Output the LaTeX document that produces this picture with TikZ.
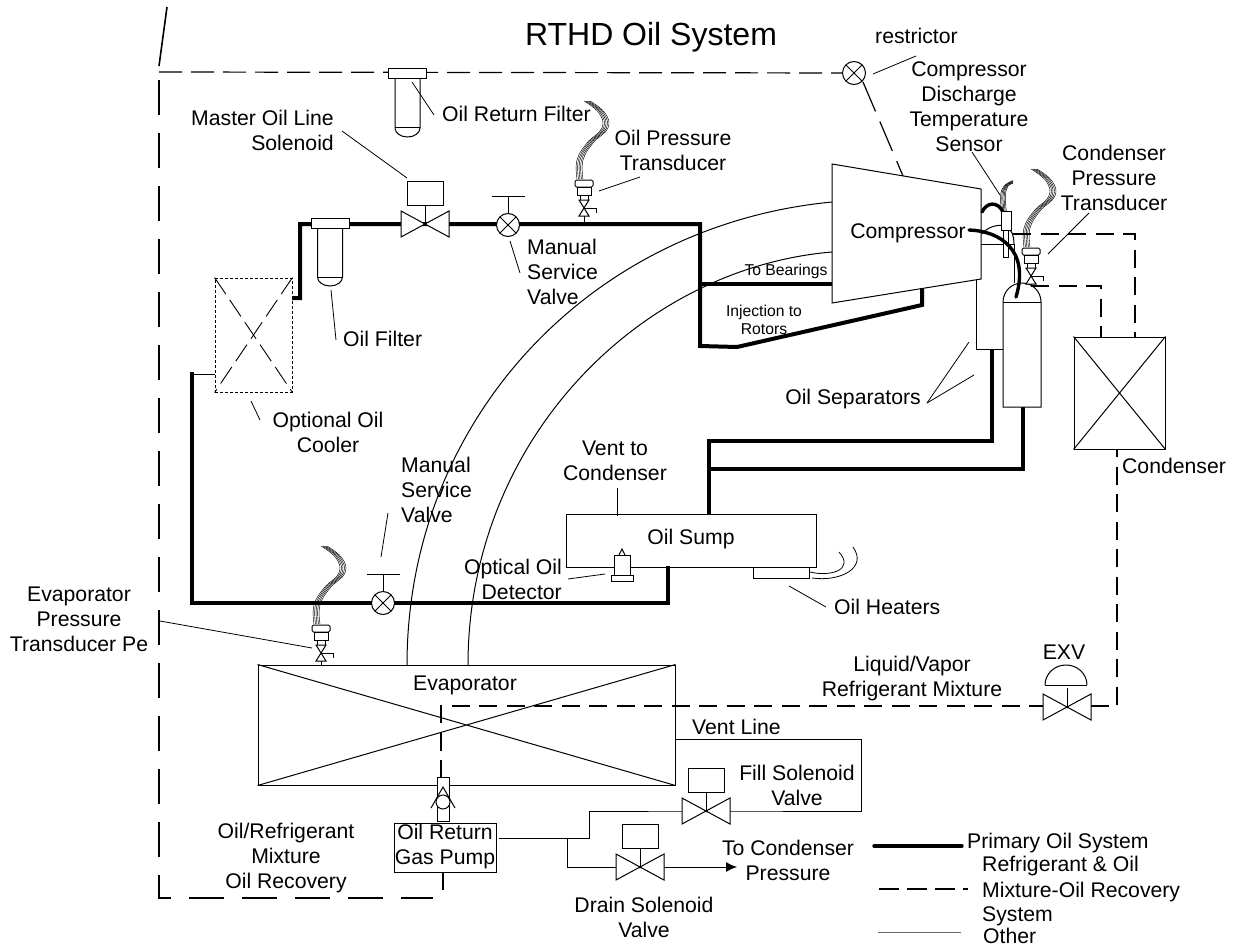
\documentclass[tikz,border=0pt]{standalone}
\usepackage{fontspec}
\setmainfont{Liberation Sans}
\usetikzlibrary{arrows.meta}
\tikzset{
  lbl/.style={inner sep=0pt,align=center,font=\fontsize{21.2}{25}\selectfont},
  lblL/.style={lbl,align=left,anchor=west},
  lblR/.style={lbl,align=right,anchor=east},
  small/.style={inner sep=0pt,align=center,font=\fontsize{15.7}{18}\selectfont},
  box/.style={draw=black,line width=1pt,fill=white,inner sep=0pt},
  thin line/.style={draw=black,line width=1pt},
  leaderline/.style={draw=black,line width=.8pt},
  oil/.style={draw=black,line width=4pt,line join=miter},
  oilthin/.style={draw=black,line width=3.4pt},
  recov/.style={draw=black,line width=1.7pt,dash pattern=on 18pt off 9.5pt},
  recovA/.style={draw=black,line width=1.2pt,dash pattern=on 23pt off 9pt},
  recovB/.style={draw=black,line width=1.4pt,dash pattern=on 35pt off 18pt},
  recovC/.style={draw=black,line width=1.2pt,dash pattern=on 32pt off 11pt},
  pics/gatevalve/.style={code={
    \draw[thin line,fill=white] (-24,-13)--(24,13)--(24,-13)--(-24,13)--cycle;
    \fill (0,0) circle[radius=1.5pt];
    \draw[thin line] (0,0)--(0,-19);
  }},
  pics/actuator/.style={code={
    \draw[box] (-18,-43) rectangle (18,-19);
  }},
  pics/handvalve/.style={code={
    \draw[thin line,fill=white] (0,0) circle[radius=11.5pt];
    \draw[thin line] (-8,-8)--(8,8) (-8,8)--(8,-8);
    \draw[thin line] (0,-11.5)--(0,-29) (-16.5,-29)--(16.5,-29);
  }},
  pics/filterunit/.style={code={
    \draw[thin line,fill=white] (-12.5,10) -- (-12.5,59) arc[start angle=180,end angle=360,x radius=12.5pt,y radius=9pt] -- (12.5,10);
    \draw[thin line] (-12.5,59)--(12.5,59);
    \draw[box] (-19,0) rectangle (19,10);
  }},
  pics/transducer/.style={code={
    \foreach \d in {-3,-1.5,0,1.5,3}{
      \draw[line width=.45pt] plot[smooth,tension=.7] coordinates {({3+\d},-107) ({18+\d},-95) ({21+\d},-80) ({6+\d},-65) ({-4+\d},-48) ({-4+\d},-29)};
    }
    \draw[thin line,fill=white,rounded corners=1.5pt] (-9,-28) rectangle (9,-21);
    \draw[thin line,fill=white] (-7,-21) rectangle (7,-13);
    \draw[thin line,fill=white] (-4,-13) rectangle (4,-8);
    \draw[thin line,fill=white] (-5,-8)--(5,-8)--(-5,8)--(5,8)--cycle;
    \draw[thin line] (0,0)--(12,0)--(12,5);
  }},
}
\newcommand{\leader}[3]{\coordinate (#1a) at (#2); \coordinate (#1b) at (#3); \draw[leaderline] (#1a) -- (#1b);}
\begin{document}
\begin{tikzpicture}[x=1pt,y=-1pt]
\useasboundingbox (0,0) rectangle (1236,947);

% ---- named junctions
\coordinate (slashT) at (167,7);
\coordinate (slashB) at (159,66);
\coordinate (borderTL) at (159,72);
\coordinate (leftTop) at (159,80);
\coordinate (borderBL) at (159,898);
\coordinate (borderEnd) at (433,898);
\coordinate (restr) at (854,73);
\coordinate (restrOut) at (863,82);
\coordinate (compTop) at (903,176);
\coordinate (compA) at (832,164);
\coordinate (compB) at (981,189);
\coordinate (compC) at (981,279);
\coordinate (compD) at (832,303);
\coordinate (coolOut) at (292,298);
\coordinate (bend1) at (300,298);
\coordinate (bend2) at (300,224);
\coordinate (teeTop) at (700,224);
\coordinate (teeBear) at (700,284);
\coordinate (bearEnd) at (832,284);
\coordinate (inj1) at (700,346);
\coordinate (inj2) at (737,347);
\coordinate (inj3) at (922,305);
\coordinate (inj4) at (922,287);
\coordinate (coolIn) at (217,374);
\coordinate (ret0) at (192,374);
\coordinate (retTop) at (192,372);
\coordinate (ret1) at (192,603);
\coordinate (ret2) at (668,603);
\coordinate (ret3) at (668,566);
\coordinate (sepA1) at (992,349);
\coordinate (sepA2) at (992,441);
\coordinate (sumpT1) at (709,441);
\coordinate (sumpT2) at (709,515);
\coordinate (sepB1) at (1023,407);
\coordinate (sepB2) at (1023,469);
\coordinate (sumpT3) at (709,469);

% ---- arcs (other lines from evaporator to compressor)
\coordinate (arc1a) at (407,665); \coordinate (arc1b) at (832,202);
\coordinate (arc2a) at (468,665); \coordinate (arc2b) at (832,252);
\draw[thin line] (arc1a) .. controls (407,420) and (590,225) .. (arc1b);
\draw[thin line] (arc2a) .. controls (468,440) and (640,268) .. (arc2b);

% ---- oil return dashed border
\draw[line width=1.6pt] (slashT) -- (slashB);
\draw[recovA] (borderTL) -- (restr);
\draw[recovB] (leftTop) -- (borderBL) -- (borderEnd);
\draw[recovC] (restrOut) -- (compTop);

% ---- primary oil lines
\draw[oil] (coolOut) -- (bend1) -- (bend2) -- (teeTop) -- (inj1) -- (inj2) -- (inj3) -- (inj4);
\draw[oil] (teeBear) -- (bearEnd);
\draw[thin line] (ret0) -- (coolIn);
\draw[oil] (retTop) -- (ret1) -- (ret2) -- (ret3);
\draw[oil] (sepA1) -- (sepA2) -- (sumpT1) -- (sumpT2);
\draw[oil] (sepB1) -- (sepB2) -- (sumpT3);

% ---- separators behind compressor
\draw[thin line] (976,279) -- (976,349) -- (1003,349);
\draw[thin line] (981,244) -- (1014,244) -- (1014,283);
\draw[thin line] (982,234) .. controls (988,226) and (1000,224) .. (1006,226) .. controls (1012,230) and (1014,236) .. (1014,244);
\draw[box] (compA) -- (compB) -- (compC) -- (compD) -- cycle;
\draw[thin line,fill=white] (1003,407) -- (1003,302) arc[start angle=180,end angle=0,radius=19pt] -- (1041,407) -- cycle;
\draw[thin line] (1003,302) -- (1041,302);

% ---- compressor discharge sensor and thick loops
\foreach \d in {-2.4,-1.2,0,1.2,2.4}{
  \draw[line width=.5pt] plot[smooth,tension=.7] coordinates {({1013},{182+\d*.6}) ({1006+\d*.8},186) ({1003+\d},196) ({1004+\d},212)};
}
\draw[oilthin,line cap=round] (982,212) .. controls (986,203) and (997,200) .. (1003,212);
\draw[box] (1003,230) rectangle (1008,257);
\draw[box] (1001,211) rectangle (1011,230);
\draw[oilthin,line cap=round] (969,230) .. controls (1000,231) and (1030,250) .. (1016,297);

% ---- condenser
\node[box,minimum width=91pt,minimum height=112pt] (cond) at (1119.5,393) {};
\draw[thin line] (cond.north west) -- (cond.south east) (cond.north east) -- (cond.south west);
\coordinate (cd1) at (1013,234); \coordinate (cd2) at (1135,234); \coordinate (cd3) at (1135,337);
\coordinate (cd4) at (1031,286); \coordinate (cd5) at (1101,286); \coordinate (cd6) at (1101,337);
\draw[recov] (cd1) -- (cd2) -- (cd3);
\draw[recov] (cd4) -- (cd5) -- (cd6);

% ---- transducers
\coordinate (tr1) at (584,208); \coordinate (tr1s) at (584,224);
\coordinate (tr2) at (321,653); \coordinate (tr2s) at (321,665);
\coordinate (tr3) at (1031,276); \coordinate (tr3s) at (1031,286);
\draw[thin line] (tr1) -- (tr1s);
\draw[thin line] (tr2) -- (tr2s);
\draw[thin line] (tr3) -- (tr3s);
\pic at (tr1) {transducer};
\pic at (tr2) {transducer};
\pic at (tr3) {transducer};

% ---- optional cooler
\node[draw=black,line width=.9pt,dash pattern=on 3pt off 2pt,inner sep=0pt,fill=white,minimum width=77pt,minimum height=114pt] (cooler) at (253.5,335) {};
\draw[line width=.9pt,dash pattern=on 20pt off 7pt] (cooler.north west) -- (cooler.south east);
\draw[line width=.9pt,dash pattern=on 20pt off 7pt] (cooler.north east) -- (cooler.south west);

% ---- filters
\pic at (407.5,69) {filterunit};
\pic at (330,218) {filterunit};

% ---- valves
\coordinate (masterV) at (425,224);
\pic at (masterV) {gatevalve};
\pic at (masterV) {actuator};
\pic at (508,225) {handvalve};
\pic at (383,603) {handvalve};
\draw[thin line,fill=white] (restr) circle[radius=11.5pt];
\draw[thin line] (846,65)--(862,81) (846,81)--(862,65);

% ---- sump
\node[box,minimum width=250pt,minimum height=53pt] (sump) at (691,540.5) {};
\draw[box] (753,567) rectangle (809,578);
\draw[line width=.8pt] (810,572) .. controls (830,577) and (855,570) .. (839,552);
\draw[line width=.8pt] (812,578) .. controls (840,582) and (868,568) .. (853,547);
\draw[oil] (ret3) -- (ret2);
\draw[thin line,fill=white] (619,555) -- (622,549) -- (625,555);
\draw[box] (614,555) rectangle (630,575);
\draw[box] (611,575) rectangle (633,581);

% ---- evaporator
\node[box,minimum width=417pt,minimum height=120pt] (evap) at (466.5,725) {};
\draw[thin line] (evap.north west) -- (evap.south east) (evap.north east) -- (evap.south west);

% ---- liquid line and EXV
\coordinate (pumpUp) at (441,778); \coordinate (liq1) at (441,706);
\coordinate (exv) at (1067,707); \coordinate (liq2) at (1117,706); \coordinate (liq3) at (1117,449);
\draw[recov] (pumpUp) -- (liq1) -- (1043,706);
\draw[recov] (1091,706) -- (liq2) -- (liq3);
\pic at (exv) {gatevalve};
\draw[thin line] (1045,685) arc[start angle=180,end angle=0,x radius=21pt,y radius=20pt];
\draw[thin line] (1045,685) -- (1087,685);

% ---- pump and check valve
\draw[box] (437,777) rectangle (449,821);
\draw[thin line,fill=white] (443,802) circle[radius=7pt];
\draw[thin line] (431,808) -- (443,787) -- (455,808);
\node[box,minimum width=102pt,minimum height=49pt] (pump) at (445,847.5) {};
\node[lbl] (pumptext) at (445,847) {Oil Return\\Gas Pump};
\coordinate (pumpS) at (443,890);
\draw[line width=1.6pt] (pump.south -| pumpS) -- (pumpS);

% ---- fill and drain
\coordinate (pout) at (499,838);
\coordinate (jct) at (567,838);
\coordinate (fa) at (589,838); \coordinate (fb) at (589,811); \coordinate (fv) at (706,811);
\coordinate (vr) at (861,811); \coordinate (vt) at (861,739);
\coordinate (dj) at (567,867); \coordinate (dv) at (640,867); \coordinate (arrowEnd) at (737,867);
\draw[thin line] (pout) -- (fa) -- (fb) -- (fv) -- (vr) -- (vt) -- (evap.east |- vt);
\draw[thin line] (jct) -- (dj) -- (dv);
\draw[thin line,-{Latex[length=11pt,width=10pt]}] (dv) -- (arrowEnd);
\pic at (fv) {gatevalve};
\pic at (fv) {actuator};
\pic at (dv) {gatevalve};
\pic at (dv) {actuator};

% ---- leaders
\leader{l1}{342,131}{407,178}
\leader{l2}{412,82}{434,115}
\leader{l3}{599,191}{640,177}
\leader{l4}{510,241}{520,273}
\leader{l5}{331,290}{336,340}
\leader{l6}{251,401}{260,420}
\leader{l7}{388,513}{381,557}
\leader{l8}{617,488}{617,516}
\leader{l9}{568,579}{605,574}
\leader{l10}{789,586}{826,607}
\leader{l11}{160,621}{312,648}
\leader{l12}{873,74}{916,56}
\leader{l13}{972,152}{1000,195}
\leader{l14}{1089,213}{1048,254}
\leader{l15}{927,403}{969,342}
\leader{l16}{927,403}{974,375}

% ---- labels
\node[lbl,font=\fontsize{32}{36}\selectfont] (title) at (651,37) {RTHD Oil System};
\node[lblL] (t1) at (875,36) {restrictor};
\node[lbl] (t2) at (969,107) {Compressor\\Discharge\\Temperature\\Sensor};
\node[lbl] (t3) at (1114,178) {Condenser\\Pressure\\Transducer};
\node[lbl] (t4) at (908,233) {Compressor};
\node[small] (t5) at (786,271) {To Bearings};
\node[small] (t6) at (764,320) {Injection to\\Rotors};
\node[lbl] (t7) at (853,399) {Oil Separators};
\node[lbl] (t8) at (1174,466) {Condenser};
\node[lbl] (t9) at (615,461) {Vent to\\Condenser};
\node[lbl] (t10) at (691,539) {Oil Sump};
\node[lblR] (t11) at (562,579) {Optical Oil\\Detector};
\node[lblL] (t12) at (834,607) {Oil Heaters};
\node[lblL] (t13) at (527,272) {Manual\\Service\\Valve};
\node[lblL] (t14) at (401,490) {Manual\\Service\\Valve};
\node[lblL] (t15) at (343,339) {Oil Filter};
\node[lbl] (t16) at (328,432) {Optional Oil\\Cooler};
\node[lblR] (t17) at (334,130) {Master Oil Line\\Solenoid};
\node[lblL] (t18) at (442,114) {Oil Return Filter};
\node[lbl] (t19) at (673,150) {Oil Pressure\\Transducer};
\node[lbl] (t20) at (79,619) {Evaporator\\Pressure\\Transducer Pe};
\node[lbl] (t21) at (465,685) {Evaporator};
\node[lbl] (t22) at (912,679) {Liquid/Vapor\\Refrigerant Mixture};
\node[lbl] (t23) at (1064,652) {EXV};
\node[lblL] (t24) at (692,727) {Vent Line};
\node[lbl] (t25) at (797,785) {Fill Solenoid\\Valve};
\node[lbl] (t26) at (788,860) {To Condenser\\Pressure};
\node[lbl] (t27) at (644,917) {Drain Solenoid\\Valve};
\node[lbl] (t28) at (286,858) {Oil/Refrigerant\\Mixture\\Oil Recovery};

% ---- legend
\coordinate (k1a) at (874,846); \coordinate (k1b) at (962,846);
\coordinate (k2a) at (879,889); \coordinate (k2b) at (968,889);
\coordinate (k3a) at (878,932); \coordinate (k3b) at (961,932);
\draw[line width=3.4pt,line cap=round] (k1a) -- (k1b);
\draw[line width=1.6pt,dash pattern=on 20pt off 8pt] (k2a) -- (k2b);
\draw[line width=1pt,draw=black!60] (k3a) -- (k3b);
\node[lblL] (k1) at (967,843) {Primary Oil System};
\node[lblL] (k2) at (982,866) {Refrigerant \& Oil};
\node[lblL] (k3) at (982,892) {Mixture-Oil Recovery};
\node[lblL] (k4) at (982,916) {System};
\node[lblL] (k5) at (983,936) {Other};
\end{tikzpicture}
\end{document}
